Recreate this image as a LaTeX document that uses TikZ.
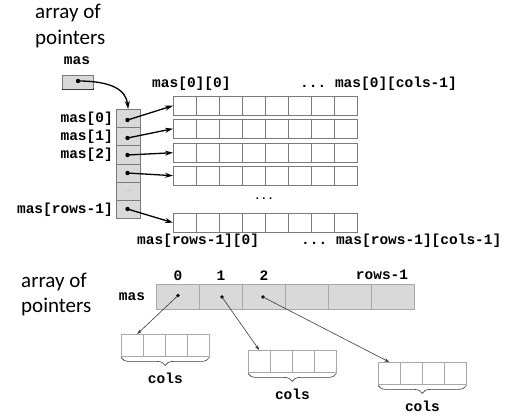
\documentclass[tikz,border=0pt]{standalone}
\usepackage{fontspec}
\setmonofont{Liberation Mono}
\newfontfamily\calib{Carlito}
\usetikzlibrary{arrows.meta,decorations.pathreplacing,calc}
\definecolor{cellgray}{HTML}{D9D9D9}
\definecolor{edgegray}{HTML}{7A7A7A}
\definecolor{lightedge}{HTML}{A8A8A8}
\definecolor{arrgray}{HTML}{3A3A3A}
\begin{document}
\begin{tikzpicture}[x=1pt,y=-1pt,
  lbl/.style={font=\ttfamily\bfseries\fontsize{14.5}{16}\selectfont, inner sep=0pt},
  ttl/.style={font=\calib\fontsize{21}{26}\selectfont, inner sep=0pt},
  pcell/.style={draw=edgegray, fill=cellgray, minimum width=24pt, minimum height=18.2pt, inner sep=0pt, anchor=north west},
  rowbox/.style={draw=edgegray, fill=white, minimum width=184pt, minimum height=19pt, inner sep=0pt, anchor=north west},
  bcell/.style={draw=lightedge, fill=cellgray, minimum width=43pt, minimum height=25pt, inner sep=0pt, anchor=north west},
  scell/.style={draw=lightedge, fill=white, minimum width=22pt, minimum height=22pt, inner sep=0pt, anchor=north west},
  dotn/.style={circle, fill=black, inner sep=0pt, minimum size=4.4pt},
  sdot/.style={circle, fill=black, inner sep=0pt, minimum size=3.6pt},
  bigarrow/.style={-{Stealth[length=8pt,width=5pt]}, line width=1.3pt, black},
  thinarrow/.style={-{Stealth[length=5pt,width=3.5pt]}, line width=0.6pt, arrgray},
  bracestyle/.style={decorate, decoration={brace, amplitude=8pt, raise=1pt}, draw=arrgray, line width=0.6pt}
]
\useasboundingbox (0,0) rectangle (511,416);

% ---------- top part ----------
\node[ttl, anchor=base west] (t1a) at (35,18) {array of};
\node[ttl, anchor=base west] (t1b) at (35,44) {pointers};
\node[lbl, anchor=base] (mlbl) at (77,64) {mas};
\node[draw=edgegray, fill=cellgray, minimum width=31pt, minimum height=14pt, inner sep=0pt] (mbox) at (77.5,82) {};
\draw[black!80, line width=1pt] (mbox.south west) -- (mbox.south east) -- ([yshift=-6pt]mbox.east);
\node[dotn] (mp) at (78,81) {};

\foreach \i in {0,...,5} {
  \node[pcell] (c\i) at (116,{109+18.2*\i}) {};
}
\node[font=\fontsize{7}{8}\selectfont, text=gray, inner sep=0pt] (cdots) at (c4.center) {...};

\draw[bigarrow] (mp.center) .. controls (112,81) and (126,90) .. (c0.north);

\foreach \i/\yy in {0/96, 1/119, 2/143, 3/166, 4/213} {
  \node[rowbox] (r\i) at (173,\yy) {};
  \foreach \k in {1,...,7} {
    \draw[edgegray] ($(r\i.north west)+({23*\k},0)$) -- ($(r\i.south west)+({23*\k},0)$);
  }
}

\foreach \i/\yy in {0/120, 1/138, 2/155, 3/173, 5/209} {
  \node[dotn] (p\i) at (127.5,\yy) {};
}
\draw[bigarrow] (p0.center) -- (r0.west);
\draw[bigarrow] (p1.center) -- (r1.west);
\draw[bigarrow] (p2.center) -- (r2.west);
\draw[bigarrow] (p3.center) -- (r3.west);
\draw[bigarrow] (p5.center) -- (r4.west);

\node[lbl, anchor=base east] (l0) at (113,122) {mas[0]};
\node[lbl, anchor=base east] (l1) at (113,140) {mas[1]};
\node[lbl, anchor=base east] (l2) at (113,158) {mas[2]};
\node[lbl, anchor=base east] (l5) at (113,213) {mas[rows-1]};

\node[lbl, anchor=base west] (h1) at (152,87) {mas[0][0]};
\node[lbl, anchor=base west] (h2) at (300,87) {... mas[0][cols-1]};
\node[font=\ttfamily\bfseries\fontsize{11}{12}\selectfont, inner sep=0pt] (mdots) at (264,199) {...};
\node[lbl, anchor=base west] (f1) at (137,244) {mas[rows-1][0]};
\node[lbl, anchor=base west] (f2) at (301,244) {... mas[rows-1][cols-1]};

% ---------- bottom part ----------
\node[ttl, anchor=base west] (t2a) at (21,287) {array of};
\node[ttl, anchor=base west] (t2b) at (21,312) {pointers};
\node[lbl, anchor=base] (mlbl2) at (132,300) {mas};

\foreach \i in {0,...,5} {
  \node[bcell] (b\i) at ({156+43*\i},284) {};
}
\node[lbl, anchor=base] (i0) at (178,280) {0};
\node[lbl, anchor=base] (i1) at (221,280) {1};
\node[lbl, anchor=base] (i2) at (264,280) {2};
\node[lbl, anchor=base] (i5) at (382,279) {rows-1};

\node[sdot] (q0) at (178,295.5) {};
\node[sdot] (q1) at (222,297) {};
\node[sdot] (q2) at (263,297) {};

\foreach \a/\xx/\yy in {0/121/334, 1/248/350, 2/378/362} {
  \foreach \c in {1,...,4} {
    \node[scell] (a\a-\c) at ({\xx+22*(\c-1)},\yy) {};
  }
  \draw[bracestyle] (a\a-4.south east) -- (a\a-1.south west);
  \node[lbl, anchor=base] (cl\a) at ($(a\a-2.south east)+(0,27)$) {cols};
}

\draw[thinarrow] (q0.center) -- ([xshift=5pt]a0-1.north);
\draw[thinarrow] (q1.center) -- (a1-1.north);
\draw[thinarrow] (q2.center) -- (a2-1.north);
\end{tikzpicture}
\end{document}
